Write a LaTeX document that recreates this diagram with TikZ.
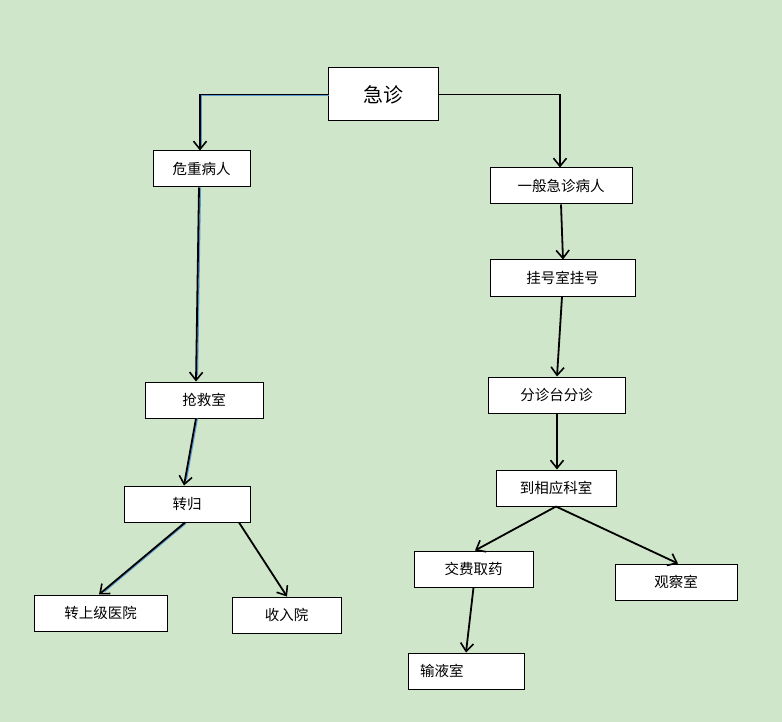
\documentclass[tikz,border=0pt]{standalone}
\usepackage{fontspec}
\setmainfont{Noto Sans CJK SC}
\usetikzlibrary{arrows.meta}
\definecolor{bgc}{HTML}{CFE6CA}
\definecolor{shad}{HTML}{5B9BD5}
\begin{document}
\begin{tikzpicture}[x=1pt,y=-1pt,
  box/.style={draw=black,line width=1pt,fill=white,inner sep=0pt,font=\fontsize{14.5}{16}\selectfont},
  arr/.style={draw=black,line width=1.8pt,-{Straight Barb[length=8pt,width=13pt,line width=1.6pt]}},
  sh/.style={draw=shad,line width=1.3pt,shorten >=6pt}]
\fill[bgc] (0,0) rectangle (782,722);
\useasboundingbox (0,0) rectangle (782,722);
\node[box,minimum width=110pt,minimum height=53pt,font=\fontsize{20}{22}\selectfont] (jz) at (383,94.5) {急诊};
\node[box,minimum width=97pt,minimum height=36pt] (wz) at (201.5,169) {危重病人};
\node[box,minimum width=142pt,minimum height=36pt] (yb) at (561,186) {一般急诊病人};
\node[box,minimum width=145pt,minimum height=36pt] (gh) at (562.5,278) {挂号室挂号};
\node[box,minimum width=137pt,minimum height=36pt] (fz) at (556.5,395) {分诊台分诊};
\node[box,minimum width=120pt,minimum height=36pt] (dx) at (556,488) {到相应科室};
\node[box,minimum width=119pt,minimum height=36pt] (jf) at (473.5,569) {交费取药};
\node[box,minimum width=122pt,minimum height=36pt] (gc) at (676,582) {观察室};
\node[box,minimum width=116pt,minimum height=36pt,text width=92pt,align=left] (sy) at (466,671) {输液室};
\node[box,minimum width=118pt,minimum height=36pt] (qj) at (204,400) {抢救室};
\node[box,minimum width=126pt,minimum height=36pt] (zg) at (187,504) {转归};
\node[box,minimum width=133pt,minimum height=36pt] (zs) at (100.5,613) {转上级医院};
\node[box,minimum width=109pt,minimum height=36pt] (sr) at (286.5,615) {收入院};
% blue shadows (same paths, shifted)
\draw[sh,transform canvas={xshift=1.3pt,yshift=-1.2pt}] (jz.west) -| ([xshift=-1.5pt]wz.north);
\draw[sh,transform canvas={xshift=1.4pt}] ([xshift=-2.5pt]wz.south) -- ([xshift=-8pt]qj.north);
\draw[sh,transform canvas={xshift=1.4pt}] ([xshift=-8pt]qj.south) -- ([xshift=-3pt]zg.north);
\draw[sh,transform canvas={xshift=0.9pt,yshift=-0.9pt}] ([xshift=-2pt]zg.south) -- ([xshift=-1.5pt]zs.north);
% arrows
\draw[arr] (jz.west) -| ([xshift=-1.5pt]wz.north);
\draw[arr] (jz.east) -| ([xshift=-1pt]yb.north);
\draw[arr] ([xshift=-2.5pt]wz.south) -- ([xshift=-8pt]qj.north);
\draw[arr] ([xshift=-8pt]qj.south) -- ([xshift=-3pt]zg.north);
\draw[arr] ([xshift=-2pt]zg.south) -- ([xshift=-1.5pt]zs.north);
\draw[arr] ([xshift=52pt]zg.south) -- ([xshift=0.5pt]sr.north);
\draw[arr] (yb.south) -- ([xshift=0.5pt]gh.north);
\draw[arr] ([xshift=-0.5pt]gh.south) -- ([xshift=0.5pt]fz.north);
\draw[arr] ([xshift=0.5pt]fz.south) -- ([xshift=1pt]dx.north);
\draw[arr] (dx.south) -- ([xshift=1.5pt]jf.north);
\draw[arr] (dx.south) -- ([xshift=2pt]gc.north);
\draw[arr] (jf.south) -- (sy.north);
\end{tikzpicture}
\end{document}
